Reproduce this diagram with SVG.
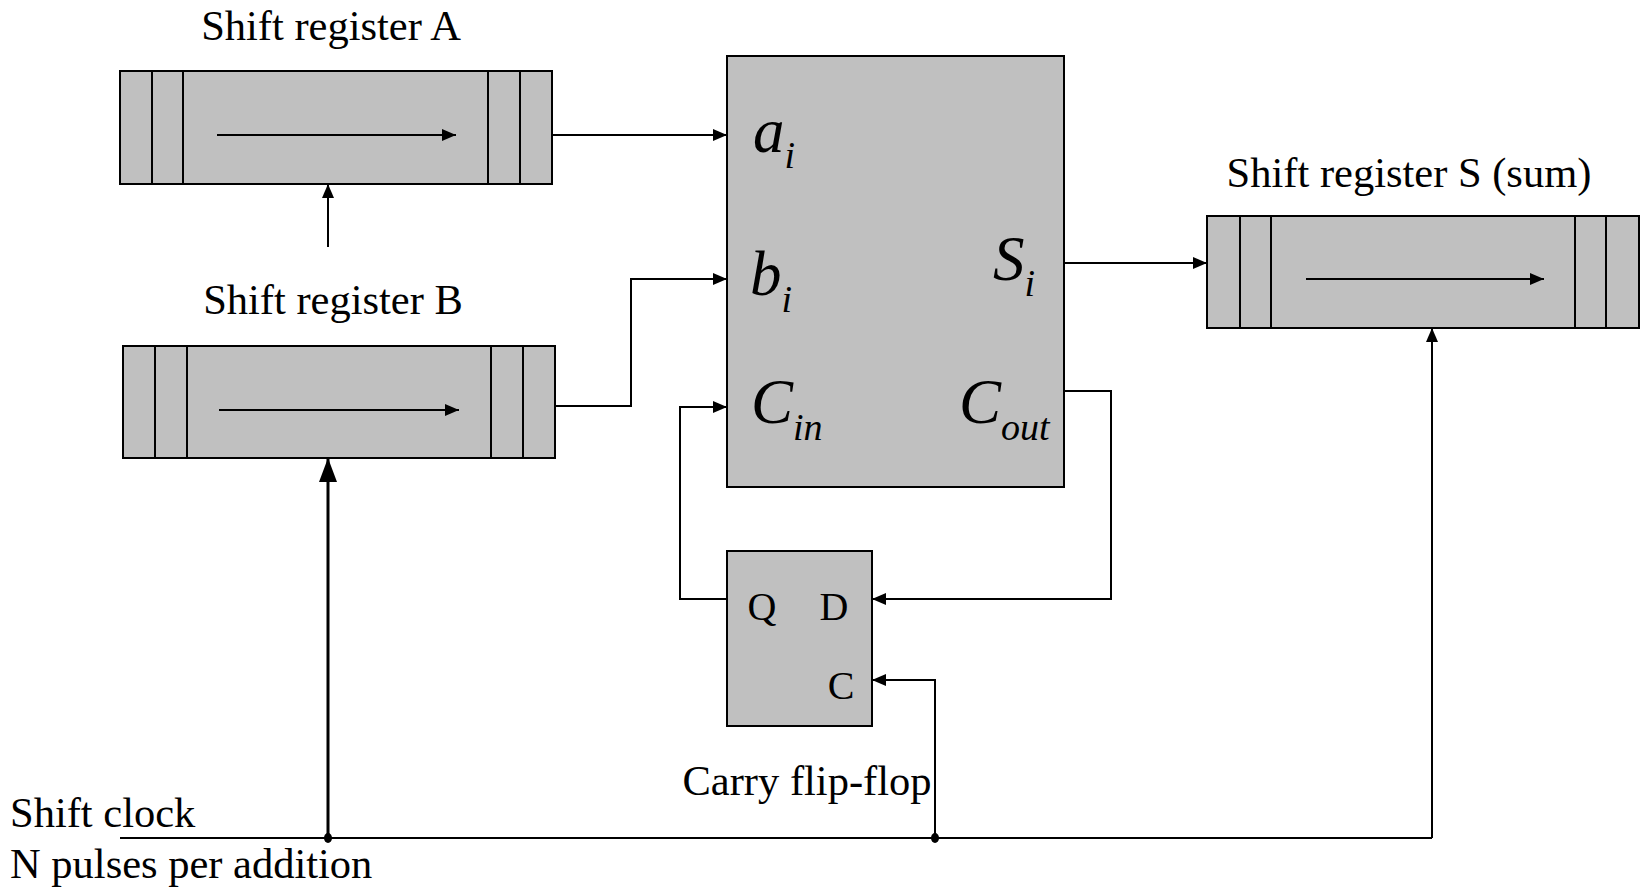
<svg xmlns="http://www.w3.org/2000/svg" width="1641" height="890" viewBox="0 0 1641 890">
<style>
.box{fill:#c0c0c0;stroke:#000;stroke-width:2}
.div{stroke:#000;stroke-width:2}
.w{fill:none;stroke:#000;stroke-width:2}
.t{font-family:"Liberation Serif","Times New Roman",serif;font-size:42.5px;fill:#000}
.p{font-family:"Liberation Serif","Times New Roman",serif;font-size:40px;fill:#000}
.it{font-family:"Liberation Serif","Times New Roman",serif;font-style:italic;font-size:63px;fill:#000}
.sub{font-size:38px}
</style>
<defs>
<marker id="ah" markerWidth="14" markerHeight="12" refX="14" refY="6" orient="auto" markerUnits="userSpaceOnUse"><path d="M0,0 L14,6 L0,12 z" fill="#000"/></marker>
<marker id="ahb" markerWidth="24" markerHeight="18" refX="24" refY="9" orient="auto" markerUnits="userSpaceOnUse"><path d="M0,0 L24,9 L0,18 z" fill="#000"/></marker>
</defs>
<rect width="1641" height="890" fill="#fff"/>

<g id="regA">
<text class="t" x="331" y="40" text-anchor="middle">Shift register A</text>
<rect class="box" x="120" y="71" width="432" height="113"/>
<line class="div" x1="152" y1="71" x2="152" y2="184"/>
<line class="div" x1="183" y1="71" x2="183" y2="184"/>
<line class="div" x1="488" y1="71" x2="488" y2="184"/>
<line class="div" x1="520" y1="71" x2="520" y2="184"/>
<line class="w" x1="217" y1="135" x2="456" y2="135" marker-end="url(#ah)"/>
</g>

<g id="regB">
<text class="t" x="333" y="314" text-anchor="middle">Shift register B</text>
<rect class="box" x="123" y="346" width="432" height="112"/>
<line class="div" x1="155" y1="346" x2="155" y2="458"/>
<line class="div" x1="187" y1="346" x2="187" y2="458"/>
<line class="div" x1="491" y1="346" x2="491" y2="458"/>
<line class="div" x1="523" y1="346" x2="523" y2="458"/>
<line class="w" x1="219" y1="410" x2="459" y2="410" marker-end="url(#ah)"/>
</g>

<g id="adder">
<rect class="box" x="727" y="56" width="337" height="431"/>
<text class="it" x="753" y="152">a<tspan class="sub" dy="16">i</tspan></text>
<text class="it" x="750" y="295">b<tspan class="sub" dy="17">i</tspan></text>
<text class="it" x="751" y="423">C<tspan class="sub" dy="17">in</tspan></text>
<text class="it" x="993" y="280">S<tspan class="sub" dy="16">i</tspan></text>
<text class="it" x="959" y="423">C<tspan class="sub" dy="17">out</tspan></text>
</g>

<g id="regS">
<text class="t" x="1409" y="187" text-anchor="middle">Shift register S (sum)</text>
<rect class="box" x="1207" y="216" width="432" height="112"/>
<line class="div" x1="1240" y1="216" x2="1240" y2="328"/>
<line class="div" x1="1271" y1="216" x2="1271" y2="328"/>
<line class="div" x1="1575" y1="216" x2="1575" y2="328"/>
<line class="div" x1="1606" y1="216" x2="1606" y2="328"/>
<line class="w" x1="1306" y1="279" x2="1544" y2="279" marker-end="url(#ah)"/>
</g>

<g id="flipflop">
<rect class="box" x="727" y="551" width="145" height="175"/>
<text class="p" x="762" y="620" text-anchor="middle">Q</text>
<text class="p" x="834" y="620" text-anchor="middle">D</text>
<text class="p" x="841" y="699" text-anchor="middle">C</text>
<text class="t" x="807" y="795" text-anchor="middle">Carry flip-flop</text>
</g>

<g id="clock">
<text class="t" x="10" y="827">Shift clock</text>
<text class="t" x="10" y="878">N pulses per addition</text>
</g>

<g id="connectors">
<line class="w" x1="552" y1="135" x2="727" y2="135" marker-end="url(#ah)"/>
<line class="w" x1="328" y1="247" x2="328" y2="184" marker-end="url(#ah)"/>
<polyline class="w" points="555,406 631,406 631,279 727,279" marker-end="url(#ah)"/>
<polyline class="w" points="727,599 680,599 680,407 727,407" marker-end="url(#ah)"/>
<polyline class="w" points="1064,391 1111,391 1111,599 872,599" marker-end="url(#ah)"/>
<line class="w" x1="1064" y1="263" x2="1207" y2="263" marker-end="url(#ah)"/>
<polyline class="w" points="935,838 935,680 872,680" marker-end="url(#ah)"/>
<line x1="120" y1="838" x2="1432" y2="838" stroke="#000" stroke-width="2"/>
<line x1="328" y1="838" x2="328" y2="458" stroke="#000" stroke-width="3" marker-end="url(#ahb)"/>
<polyline class="w" points="1432,838 1432,328" marker-end="url(#ah)"/>
<ellipse cx="328" cy="838" rx="4" ry="5" fill="#000"/>
<ellipse cx="935" cy="838" rx="4" ry="5" fill="#000"/>
</g>
</svg>
